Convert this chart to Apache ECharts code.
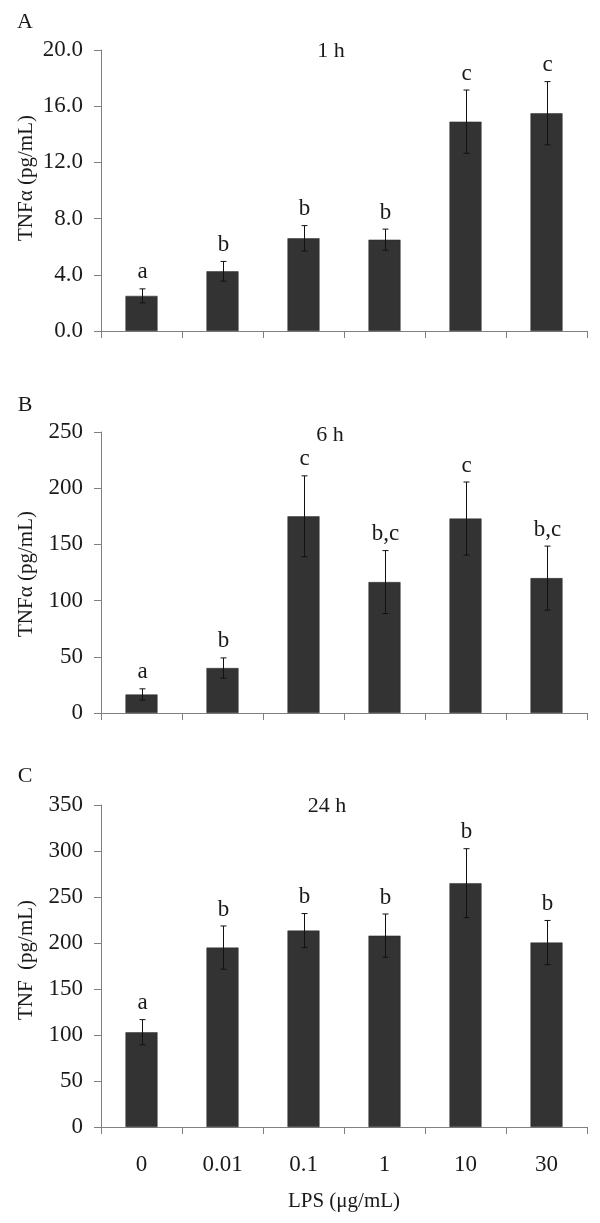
<!DOCTYPE html>
<html>
<head>
<meta charset="utf-8">
<script src="https://cdn.jsdelivr.net/npm/echarts@6/dist/echarts.min.js"></script>
<style>
html,body{margin:0;padding:0;background:#fff;}
#chart{width:600px;height:1223px;}
</style>
</head>
<body>
<div id="chart"></div>
<script>
// ---- data ----
const categories = ['0', '0.01', '0.1', '1', '10', '30'];

const mean1h = [2.5, 4.25, 6.6, 6.5, 14.9, 15.5];
const err1h = [0.5, 0.7, 0.9, 0.75, 2.25, 2.25];
const letters1h = ['a', 'b', 'b', 'b', 'c', 'c'];

const mean6h = [16.5, 40, 175, 116.5, 173, 120];
const err6h = [5, 9, 36, 28, 32.5, 28.5];
const letters6h = ['a', 'b', 'c', 'b,c', 'c', 'b,c'];

const mean24h = [103, 195, 213.5, 208, 265, 200.5];
const err24h = [13.7, 23.5, 18.5, 23.5, 37.5, 24];
const letters24h = ['a', 'b', 'b', 'b', 'b', 'b'];

const panelTitles = ['1 h', '6 h', '24 h'];
const panelLetters = ['A', 'B', 'C'];
const yNames = ['TNF\u03b1 (pg/mL)', 'TNF\u03b1 (pg/mL)', 'TNF  (pg/mL)'];
const xName = 'LPS (\u03bcg/mL)';

// ---- styles ----
const FONT = '"Liberation Serif", "Times New Roman", serif';
const TXT = '#1a1a1a';
const AXC = '#808080';
const BAR = '#333333';

const grids = [
  {left: 101, right: 13, top: 50, height: 281},
  {left: 101, right: 13, top: 432, height: 281},
  {left: 101, right: 13, top: 805, height: 322}
];

function xAxisFor(idx, showLabels) {
  return {
    type: 'category', gridIndex: idx, data: categories, boundaryGap: true,
    axisLine: {show: true, lineStyle: {color: AXC, width: 1}},
    axisTick: {show: true, length: 7, lineStyle: {color: AXC}},
    axisLabel: {show: showLabels, fontFamily: FONT, fontSize: 23, color: TXT, margin: 26},
    splitLine: {show: false},
    name: showLabels ? xName : '',
    nameLocation: 'middle', nameGap: 64,
    nameTextStyle: {fontFamily: FONT, fontSize: 21, color: TXT}
  };
}
function yAxisFor(idx, max, interval, fmt) {
  return {
    type: 'value', gridIndex: idx, min: 0, max: max, interval: interval,
    axisLine: {show: true, lineStyle: {color: AXC, width: 1}},
    axisTick: {show: true, length: 7, lineStyle: {color: AXC}},
    axisLabel: {fontFamily: FONT, fontSize: 23, color: TXT, margin: 18, formatter: fmt},
    splitLine: {show: false}
  };
}

function errRender(letters) {
  return function (params, api) {
    const i = api.value(0), m = api.value(1), e = api.value(2);
    const top = api.coord([i, m + e]);
    const bot = api.coord([i, m - e]);
    const x = Math.round(top[0]) + 0.5;
    const c = 3;
    const ls = {stroke: '#111', lineWidth: 1};
    return {
      type: 'group',
      children: [
        {type: 'line', shape: {x1: x, y1: top[1], x2: x, y2: bot[1]}, style: ls},
        {type: 'line', shape: {x1: x - c, y1: top[1], x2: x + c, y2: top[1]}, style: ls},
        {type: 'line', shape: {x1: x - c, y1: bot[1], x2: x + c, y2: bot[1]}, style: ls},
        {type: 'text', x: x, y: top[1] - 5,
         style: {text: letters[params.dataIndex], font: '23px ' + FONT, fill: TXT,
                 align: 'center', verticalAlign: 'bottom'}}
      ]
    };
  };
}

function barSeries(idx, means) {
  return {
    type: 'bar', xAxisIndex: idx, yAxisIndex: idx, data: means, barWidth: 32,
    itemStyle: {color: BAR, borderColor: '#2a2a2a', borderWidth: 0.5},
    silent: true, z: 2
  };
}
function errSeries(idx, means, errs, letters) {
  return {
    type: 'custom', xAxisIndex: idx, yAxisIndex: idx,
    data: means.map((m, i) => [i, m, errs[i]]),
    encode: {x: 0, y: 1},
    renderItem: errRender(letters), z: 5, silent: true, clip: false
  };
}

const titlePos = [[331, 51], [330, 435], [327, 806]];
const letterPos = [[25, 22], [25, 405], [25, 776]];
const yNamePos = [[26, 178], [26, 574], [26, 960]];

const graphics = [];
for (let k = 0; k < 3; k++) {
  graphics.push({type: 'text', x: titlePos[k][0], y: titlePos[k][1],
    style: {text: panelTitles[k], font: '22px ' + FONT, fill: TXT, align: 'center', verticalAlign: 'middle'}});
  graphics.push({type: 'text', x: letterPos[k][0], y: letterPos[k][1],
    style: {text: panelLetters[k], font: '22px ' + FONT, fill: TXT, align: 'center', verticalAlign: 'middle'}});
  graphics.push({type: 'text', x: yNamePos[k][0], y: yNamePos[k][1], rotation: Math.PI / 2,
    style: {text: yNames[k], font: '21px ' + FONT, fill: TXT, align: 'center', verticalAlign: 'middle'}});
}

const chart = echarts.init(document.getElementById('chart'), null, {renderer: 'canvas'});
chart.setOption({
  animation: false,
  backgroundColor: '#fff',
  grid: grids,
  xAxis: [xAxisFor(0, false), xAxisFor(1, false), xAxisFor(2, true)],
  yAxis: [
    yAxisFor(0, 20, 4, v => v.toFixed(1)),
    yAxisFor(1, 250, 50, v => String(v)),
    yAxisFor(2, 350, 50, v => String(v))
  ],
  series: [
    barSeries(0, mean1h), errSeries(0, mean1h, err1h, letters1h),
    barSeries(1, mean6h), errSeries(1, mean6h, err6h, letters6h),
    barSeries(2, mean24h), errSeries(2, mean24h, err24h, letters24h)
  ],
  graphic: graphics
});
</script>
</body>
</html>
